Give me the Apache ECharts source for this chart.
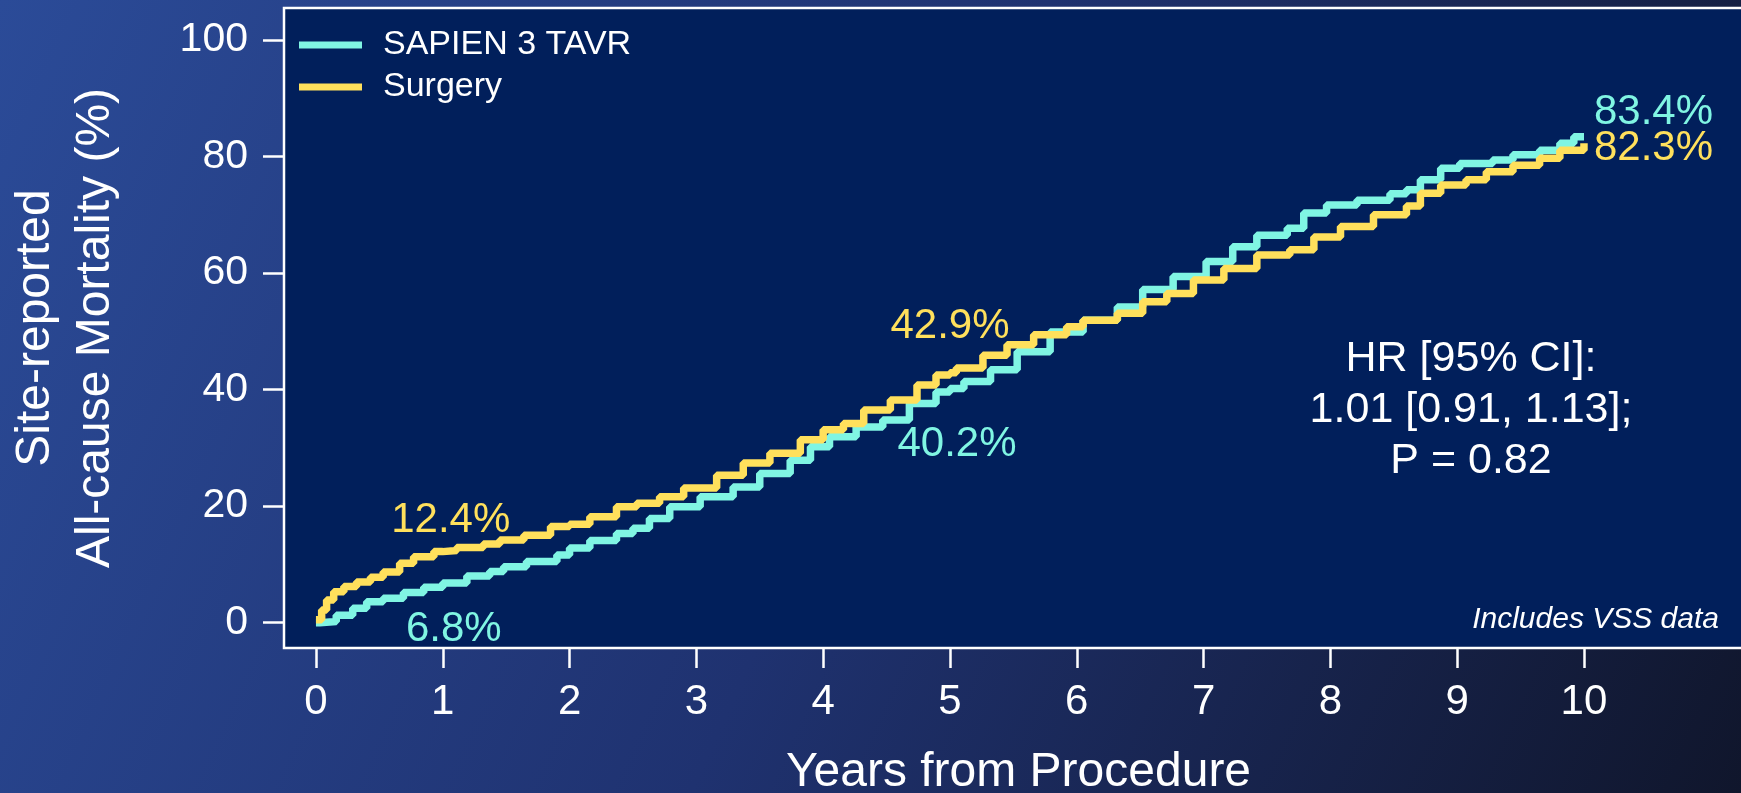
<!DOCTYPE html>
<html>
<head>
<meta charset="utf-8">
<script src="https://cdn.jsdelivr.net/npm/echarts@6/dist/echarts.min.js"></script>
<style>
  html, body { margin: 0; padding: 0; background: #1b2d66; }
  #chartmain { width: 1741px; height: 793px; }
</style>
</head>
<body>
<div id="chartmain"></div>
<script>
// years from procedure, cumulative all-cause mortality (%)
var tavrYears = [0, 0.03, 0.16, 0.29, 0.40, 0.53, 0.69, 0.85, 1.00, 1.19, 1.37, 1.48, 1.66, 1.90, 2.00, 2.16, 2.37, 2.50, 2.63, 2.79, 3.03, 3.29, 3.50, 3.74, 3.90, 4.05, 4.26, 4.47, 4.68, 4.89, 5.00, 5.11, 5.32, 5.53, 5.79, 6.05, 6.32, 6.52, 6.76, 7.02, 7.23, 7.42, 7.66, 7.79, 7.97, 8.21, 8.47, 8.60, 8.71, 8.87, 9.02, 9.28, 9.44, 9.65, 9.81, 9.92, 10.0];
var tavrValues = [0, 0.2, 1.3, 2.5, 3.6, 4.2, 5.2, 6.1, 6.8, 8.0, 8.8, 9.6, 10.5, 11.6, 12.8, 14.1, 15.3, 16.2, 17.9, 19.9, 21.6, 23.3, 25.6, 27.9, 30.2, 31.9, 33.6, 34.8, 37.6, 39.6, 40.2, 41.4, 43.4, 46.5, 49.9, 51.9, 54.2, 57.2, 59.4, 62.0, 64.5, 66.5, 67.7, 70.3, 71.7, 72.5, 73.6, 74.3, 76.0, 78.0, 78.8, 79.4, 80.3, 81.1, 82.3, 83.4, 83.4];
var surgYears = [0, 0.045, 0.084, 0.14, 0.22, 0.32, 0.43, 0.53, 0.66, 0.77, 0.93, 1.00, 1.11, 1.32, 1.45, 1.64, 1.85, 2.00, 2.16, 2.37, 2.53, 2.71, 2.90, 3.16, 3.37, 3.58, 3.82, 4.00, 4.16, 4.32, 4.53, 4.74, 4.89, 5.00, 5.05, 5.26, 5.45, 5.66, 5.92, 6.05, 6.32, 6.52, 6.71, 6.92, 7.16, 7.42, 7.68, 7.87, 8.08, 8.34, 8.60, 8.71, 8.87, 9.07, 9.23, 9.44, 9.65, 9.81, 10.0];
var surgValues = [0.5, 2.2, 3.9, 5.3, 6.2, 7.0, 7.8, 8.7, 10.2, 11.3, 12.2, 12.4, 12.9, 13.5, 14.2, 15.0, 16.5, 16.9, 18.2, 19.9, 20.5, 21.6, 23.1, 25.3, 27.4, 29.1, 31.4, 33.1, 34.2, 36.5, 38.2, 40.8, 42.5, 42.9, 43.7, 45.9, 47.7, 49.4, 50.8, 51.9, 53.1, 55.1, 56.5, 58.8, 60.8, 63.1, 64.0, 66.2, 68.0, 70.0, 71.5, 73.7, 75.1, 76.0, 77.4, 78.5, 79.7, 81.1, 82.3];

// landmark estimates shown on the curves
var markYears = [1, 5, 10];
var tavrMarks = [6.8, 40.2, 83.4];
var surgMarks = [12.4, 42.9, 82.3];

var xTicks = [0, 1, 2, 3, 4, 5, 6, 7, 8, 9, 10];
var yTicks = [0, 20, 40, 60, 80, 100];

var seriesNames = ['SAPIEN 3 TAVR', 'Surgery'];
var CYAN = '#80F5E3';
var YELLOW = '#FFE05C';
var FONT = 'Liberation Sans, Arial, sans-serif';

function pairs(xs, ys) {
    var out = [];
    for (var i = 0; i < xs.length; i++) out.push([xs[i], ys[i]]);
    return out;
}

// label offsets (px) for the 1y / 5y / 10y annotations
var tavrOffsets = [[11, 46], [7, 56], [10, -24]];
var surgOffsets = [[8, -30], [0, -46], [10, 5]];

function marks(values, color, offsets) {
    return values.map(function (v, i) {
        var last = i === values.length - 1;
        return {
            value: [markYears[i], v],
            label: {
                show: true,
                position: last ? 'right' : 'inside',
                distance: 0,
                offset: offsets[i],
                formatter: v.toFixed(1) + '%',
                color: color,
                opacity: 1,
                fontSize: 42,
                fontFamily: FONT
            }
        };
    });
}

var chart = echarts.init(document.getElementById('chartmain'), null, { renderer: 'canvas', width: 1741, height: 793 });

var option = {
    animation: false,
    backgroundColor: new echarts.graphic.LinearGradient(0, 0, 1, 1, [
        { offset: 0, color: '#2B4B98' },
        { offset: 0.5, color: '#1F3270' },
        { offset: 1, color: '#10162C' }
    ]),
    grid: {
        left: 284, top: 8, right: -12, bottom: 145,
        outerBoundsMode: 'none',
        containLabel: false,
        show: true,
        backgroundColor: '#011F5B',
        borderColor: '#FFFFFF',
        borderWidth: 2.5
    },
    legend: {
        data: seriesNames,
        orient: 'vertical',
        left: 299, top: 24,
        padding: 0,
        icon: 'rect',
        itemWidth: 63, itemHeight: 7,
        itemGap: 0,
        textStyle: { color: '#FFFFFF', fontSize: 34, fontFamily: FONT, lineHeight: 39, padding: [3, 0, 0, 16] }
    },
    xAxis: {
        type: 'value',
        min: -0.252, max: 11.333,
        name: 'Years from Procedure',
        nameLocation: 'middle',
        nameGap: 101,
        nameTextStyle: { color: '#FFFFFF', fontSize: 48, fontFamily: FONT },
        axisLine: { show: false, onZero: false },
        splitLine: { show: false },
        axisTick: { show: true, inside: false, length: 20, customValues: xTicks, lineStyle: { color: '#FFFFFF', width: 2.5 } },
        axisLabel: { customValues: xTicks, color: '#FFFFFF', fontSize: 42, margin: 33, fontFamily: FONT }
    },
    yAxis: {
        type: 'value',
        min: -4.34, max: 105.49,
        name: 'Site-reported\nAll-cause Mortality (%)',
        nameLocation: 'middle',
        nameGap: 158,
        nameRotate: 90,
        nameTextStyle: { color: '#FFFFFF', fontSize: 48, fontFamily: FONT, lineHeight: 60 },
        axisLine: { show: false, onZero: false },
        splitLine: { show: false },
        axisTick: { show: true, inside: false, length: 21, customValues: yTicks, lineStyle: { color: '#FFFFFF', width: 2.5 } },
        axisLabel: { customValues: yTicks, color: '#FFFFFF', fontSize: 41, margin: 36, fontFamily: FONT }
    },
    series: [
        {
            name: seriesNames[0],
            type: 'line',
            step: 'end',
            showSymbol: false,
            color: CYAN,
            lineStyle: { color: CYAN, width: 7.5 },
            data: pairs(tavrYears, tavrValues)
        },
        {
            name: seriesNames[1],
            type: 'line',
            step: 'end',
            showSymbol: false,
            color: YELLOW,
            lineStyle: { color: YELLOW, width: 7.5 },
            data: pairs(surgYears, surgValues)
        },
        {
            name: 'tavr-marks',
            type: 'scatter',
            silent: true,
            symbolSize: 0,
            itemStyle: { color: 'transparent', opacity: 1 },
            z: 5,
            data: marks(tavrMarks, CYAN, tavrOffsets)
        },
        {
            name: 'surg-marks',
            type: 'scatter',
            silent: true,
            symbolSize: 0,
            itemStyle: { color: 'transparent', opacity: 1 },
            z: 5,
            data: marks(surgMarks, YELLOW, surgOffsets)
        }
    ],
    graphic: [
        {
            type: 'text',
            x: 1471, y: 410,
            style: {
                text: 'HR [95% CI]:\n1.01 [0.91, 1.13];\nP = 0.82',
                fill: '#FFFFFF',
                font: '43px ' + FONT,
                lineHeight: 51,
                align: 'center',
                verticalAlign: 'middle'
            }
        },
        {
            type: 'text',
            x: 1719, y: 620,
            style: {
                text: 'Includes VSS data',
                fill: '#FFFFFF',
                font: 'italic 30px ' + FONT,
                align: 'right',
                verticalAlign: 'middle'
            }
        }
    ]
};

chart.setOption(option);
</script>
</body>
</html>
